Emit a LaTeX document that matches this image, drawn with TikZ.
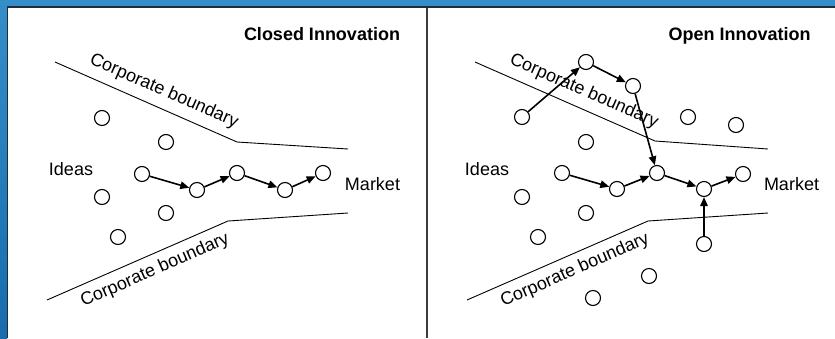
\documentclass[tikz,border=0pt]{standalone}
\usepackage{fontspec}
\setmainfont{Liberation Sans}
\usetikzlibrary{arrows.meta}
\definecolor{bluebg}{RGB}{52,142,200}
\definecolor{bluedark}{RGB}{24,108,172}
\definecolor{edgeline}{RGB}{30,45,60}
\definecolor{divider}{RGB}{60,60,60}
\begin{document}
\begin{tikzpicture}[x=1pt,y=-1pt,
  dot/.style={circle,draw,fill=white,line width=1.1pt,minimum size=15pt,inner sep=0pt},
  flow/.style={line width=1.6pt,-{Triangle[length=9pt,width=7.5pt]}},
  bound/.style={line width=0.9pt},
  lbl/.style={font=\fontsize{18}{21}\selectfont,inner sep=0pt},
  base/.style={lbl,anchor=base},
  title/.style={font=\fontsize{18}{21}\selectfont\bfseries,inner sep=0pt,anchor=base}]
\useasboundingbox (0,0) rectangle (835,338);
\fill[white] (0,0) rectangle (835,338);
\fill[bluebg] (0,0) rectangle (835,6.5);
\shade[top color=bluebg,bottom color=bluedark] (0,0) rectangle (7,338);
\draw[edgeline,line width=1.2pt] (7.6,338) -- (7.6,6.9) -- (835,6.9);
\draw[divider,line width=2pt] (427,7.5) -- (427,338);

% ---------- Closed Innovation ----------
\node[title] (tL) at (322,40) {Closed Innovation};
\coordinate (uL1) at (55,62); \coordinate (uL2) at (237,142); \coordinate (uL3) at (348,149);
\coordinate (lL1) at (47,300); \coordinate (lL2) at (228,221); \coordinate (lL3) at (348,213);
\draw[bound] (uL1) -- (uL2) -- (uL3);
\draw[bound] (lL1) -- (lL2) -- (lL3);
\node[lbl,rotate=-23.7] (ubL) at (164,91.5) {Corporate boundary};
\node[lbl,rotate=23.6] (lbL) at (155,270.5) {Corporate boundary};
\node[base] (ideasL) at (71,175) {Ideas};
\node[base] (marketL) at (372.5,190) {Market};

\node[dot] (p1) at (102,118) {};
\node[dot] (p2) at (166,142) {};
\node[dot] (p3) at (102,197) {};
\node[dot] (p4) at (166,213) {};
\node[dot] (p5) at (118,237) {};
\node[dot] (a1) at (142,174) {};
\node[dot] (a2) at (197,190) {};
\node[dot] (a3) at (237,173) {};
\node[dot] (a4) at (285,190) {};
\node[dot] (a5) at (323,173) {};
\draw[flow] (a1) -- (a2);
\draw[flow] (a2) -- (a3);
\draw[flow] (a3) -- (a4);
\draw[flow] (a4) -- (a5);

% ---------- Open Innovation ----------
\node[title] (tR) at (739.5,40) {Open Innovation};
\coordinate (uR1) at (475,62); \coordinate (uR2) at (655,141); \coordinate (uR3) at (768,149);
\coordinate (lR1) at (467,300); \coordinate (lR2) at (648,221); \coordinate (lR3) at (768,213);
\draw[bound] (uR1) -- (uR2) -- (uR3);
\draw[bound] (lR1) -- (lR2) -- (lR3);
\node[lbl,rotate=-23.7] (ubR) at (584,91.5) {Corporate boundary};
\node[lbl,rotate=23.6] (lbR) at (575,270.5) {Corporate boundary};
\node[base] (ideasR) at (487,175) {Ideas};
\node[base] (marketR) at (791.5,190) {Market};

\node[dot] (q1) at (522,117) {};
\node[dot] (q2) at (586,62) {};
\node[dot] (q3) at (633,86) {};
\node[dot] (q4) at (688,117) {};
\node[dot] (q5) at (736,125) {};
\node[dot] (q6) at (586,142) {};
\node[dot] (b1) at (562,173) {};
\node[dot] (b2) at (617,189) {};
\node[dot] (b3) at (657,173) {};
\node[dot] (b4) at (704,189) {};
\node[dot] (b5) at (743,174) {};
\node[dot] (q7) at (522,197) {};
\node[dot] (q8) at (586,213) {};
\node[dot] (q9) at (538,237) {};
\node[dot] (q10) at (704,244) {};
\node[dot] (q11) at (649,276) {};
\node[dot] (q12) at (593,298) {};
\draw[flow] (q1) -- (q2);
\draw[flow] (q2) -- (q3);
\draw[flow] (q3) -- (b3);
\draw[flow] (b1) -- (b2);
\draw[flow] (b2) -- (b3);
\draw[flow] (b3) -- (b4);
\draw[flow] (b4) -- (b5);
\draw[flow] (q10) -- (b4);
\end{tikzpicture}
\end{document}
